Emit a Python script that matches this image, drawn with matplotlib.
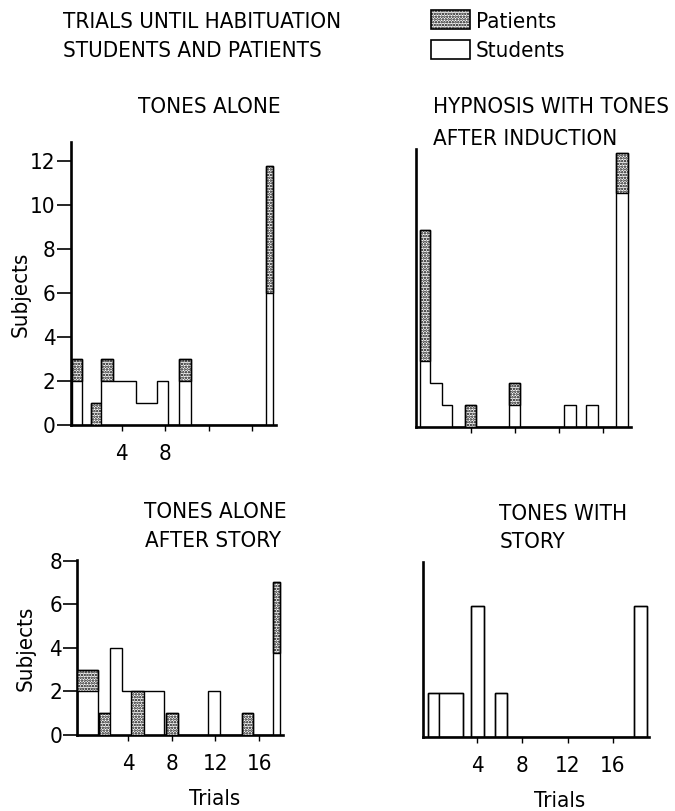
import matplotlib.pyplot as plt
from matplotlib.patches import Rectangle

plt.rcParams['font.family'] = ['DejaVu Sans']
plt.rcParams['font.stretch'] = 'condensed'
plt.rcParams['hatch.linewidth'] = 1.2

# bins: left/right edges in trials, counts of students and patients
alone_left = [-0.6, 1.18, 2.1, 3.23, 5.28, 7.27, 9.26, 17.3]
alone_right = [0.38, 2.1, 3.23, 5.28, 7.27, 8.22, 10.34, 17.95]
alone_students = [2, 0, 2, 2, 1, 2, 2, 6]
alone_patients = [1, 1, 1, 0, 0, 0, 1, 5.8]

hyp_left = [-0.63, 0.27, 1.39, 3.4, 7.43, 12.4, 14.4, 17.1]
hyp_right = [0.27, 1.39, 2.3, 4.44, 8.43, 13.5, 15.5, 18.25]
hyp_students = [3, 2, 1, 0, 1, 1, 1, 10.7]
hyp_patients = [6, 0, 0, 1, 1, 0, 0, 1.8]

after_left = [-0.64, 1.37, 2.35, 3.42, 4.24, 5.46, 7.45, 11.35, 14.4, 17.29]
after_right = [1.28, 2.35, 3.42, 4.24, 5.46, 7.32, 8.55, 12.42, 15.46, 17.87]
after_students = [2, 0, 4, 2, 0, 2, 0, 2, 0, 3.75]
after_patients = [1, 1, 0, 0, 2, 0, 1, 0, 1, 3.25]

story_left = [-0.41, 0.62, 3.44, 5.57, 17.93]
story_right = [0.62, 2.76, 4.62, 6.61, 19.06]
story_students = [2, 2, 6, 2, 6]
story_patients = [0, 0, 0, 0, 0]

x_ticks = [4, 8, 12, 16]

W, H = 675, 811
FS = 16
DOTS = '......'


def fx(x):
    return x / W


def fy(y):
    return 1 - y / H


def make_axes(fig, x0, x1, y0, y1):
    # pixel box -> axes
    return fig.add_axes([fx(x0), fy(y0), fx(x1 - x0), (y0 - y1) / H])


def draw_hist(ax, left, right, students, patients, edged=False):
    widths = [r - l for l, r in zip(left, right)]
    ax.bar(left, students, width=widths, align='edge', color='white',
           edgecolor='black' if edged else 'none', lw=1.0, zorder=2)
    pl = [l for l, p in zip(left, patients) if p > 0]
    pw = [w for w, p in zip(widths, patients) if p > 0]
    pb = [s for s, p in zip(students, patients) if p > 0]
    ph = [p for p in patients if p > 0]
    ax.bar(pl, ph, width=pw, bottom=pb, align='edge', color='white',
           edgecolor='black', hatch=DOTS, lw=1.0, zorder=3)
    # outer stepped outline over the totals
    edges = [left[0]]
    totals = []
    for l, r, s, p in zip(left, right, students, patients):
        if l > edges[-1]:
            totals.append(0)
            edges.append(l)
        totals.append(s + p)
        edges.append(r)
    ax.stairs(totals, edges, baseline=0, color='black', lw=1.0, zorder=4)
    for side in ['top', 'right']:
        ax.spines[side].set_visible(False)
    for side in ['left', 'bottom']:
        ax.spines[side].set_linewidth(1.9)
    ax.set_xticks(x_ticks)
    ax.tick_params(axis='x', direction='out', length=4, width=1, pad=10,
                   labelsize=FS)
    ax.tick_params(axis='y', direction='out', length=10, width=1.2, pad=1,
                   labelsize=FS)


fig = plt.figure(figsize=(6.75, 8.11), dpi=100)

ax1 = make_axes(fig, 71, 276, 425, 141.7)
draw_hist(ax1, alone_left, alone_right, alone_students, alone_patients)
ax1.set_xlim(-0.66, 18.2)
ax1.set_ylim(0, 12.9)
ax1.set_yticks(range(0, 13, 2))
ax1.set_xticklabels(['4', '8', '', ''])

ax2 = make_axes(fig, 416, 630.7, 426.7, 149)
draw_hist(ax2, hyp_left, hyp_right, hyp_students, hyp_patients)
ax2.set_xlim(-1.0, 18.47)
ax2.set_ylim(0, 12.7)
ax2.set_yticks([])
ax2.set_xticklabels([])

ax3 = make_axes(fig, 77.3, 282.7, 735, 560)
draw_hist(ax3, after_left, after_right, after_students, after_patients)
ax3.set_xlim(-0.64, 18.15)
ax3.set_ylim(0, 8.03)
ax3.set_yticks(range(0, 9, 2))

ax4 = make_axes(fig, 423.3, 648.7, 736.7, 561.7)
draw_hist(ax4, story_left, story_right, story_students, story_patients, edged=True)
ax4.set_xlim(-0.8, 19.2)
ax4.set_ylim(0, 8.03)
ax4.set_yticks([])

# headings
fig.text(fx(63), fy(28), 'TRIALS UNTIL HABITUATION', fontsize=FS, va='baseline')
fig.text(fx(63), fy(57), 'STUDENTS AND PATIENTS', fontsize=FS, va='baseline')
fig.text(fx(138), fy(113), 'TONES ALONE', fontsize=FS, va='baseline')
fig.text(fx(433), fy(113), 'HYPNOSIS WITH TONES', fontsize=FS, va='baseline')
fig.text(fx(433), fy(145), 'AFTER INDUCTION', fontsize=FS, va='baseline')
fig.text(fx(144), fy(518), 'TONES ALONE', fontsize=FS, va='baseline')
fig.text(fx(145), fy(547), 'AFTER STORY', fontsize=FS, va='baseline')
fig.text(fx(499), fy(520), 'TONES WITH', fontsize=FS, va='baseline')
fig.text(fx(500), fy(548), 'STORY', fontsize=FS, va='baseline')

# legend
fig.add_artist(Rectangle((fx(431), fy(29)), fx(39), 19 / H, transform=fig.transFigure,
                         facecolor='white', edgecolor='black', hatch=DOTS, lw=1.2))
fig.add_artist(Rectangle((fx(431), fy(59)), fx(39), 19 / H, transform=fig.transFigure,
                         facecolor='white', edgecolor='black', lw=1.2))
fig.text(fx(476), fy(28), 'Patients', fontsize=FS, va='baseline')
fig.text(fx(476), fy(57), 'Students', fontsize=FS, va='baseline')

# axis labels
fig.text(fx(21), fy(294), 'Subjects', fontsize=FS, rotation=90, ha='center', va='center')
fig.text(fx(26), fy(648), 'Subjects', fontsize=FS, rotation=90, ha='center', va='center')
fig.text(fx(215), fy(805), 'Trials', fontsize=FS, ha='center', va='baseline')
fig.text(fx(560), fy(807), 'Trials', fontsize=FS, ha='center', va='baseline')

plt.savefig('out.png', dpi=100)
